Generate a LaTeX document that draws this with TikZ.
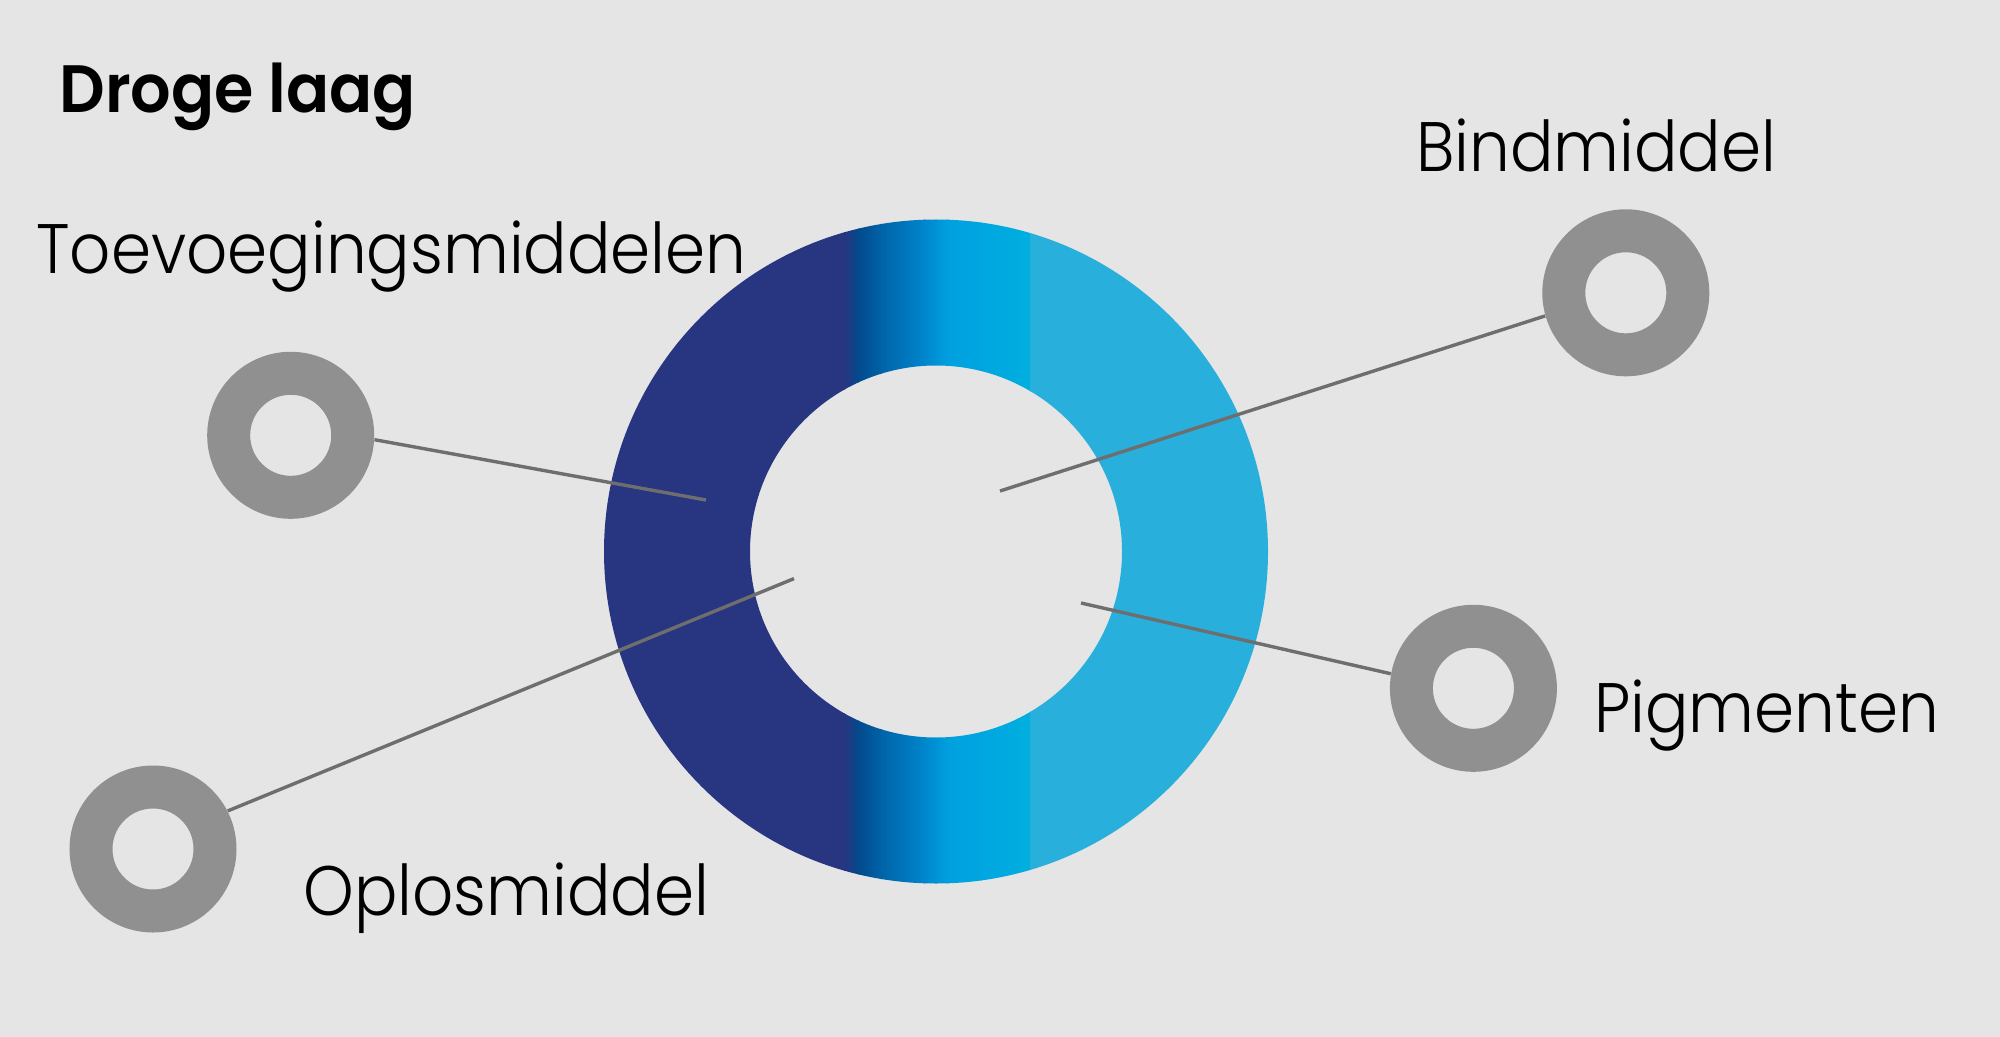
\documentclass[tikz,border=0pt]{standalone}
\usepackage{fontspec}
\setmainfont{Poppins}[UprightFont=* Light, BoldFont=* SemiBold,
  UprightFeatures={FakeStretch=0.92}, BoldFeatures={FakeStretch=0.95}]
\definecolor{bg}{HTML}{E5E5E5}
\definecolor{navy}{HTML}{283580}
\definecolor{gA}{HTML}{024A8D}
\definecolor{gB}{HTML}{0063A8}
\definecolor{gC}{HTML}{0086CC}
\definecolor{gD}{HTML}{00A0DF}
\definecolor{gE}{HTML}{00A6E0}
\definecolor{gF}{HTML}{00AFDF}
\definecolor{sky}{HTML}{28AFDB}
\definecolor{ringgray}{HTML}{909090}
\definecolor{linegray}{HTML}{6E6E6E}
\tikzset{
  label/.style={anchor=base west, inner sep=0pt, font=\fontsize{35pt}{40pt}\selectfont, text=black},
  title/.style={anchor=base west, inner sep=0pt, font=\fontsize{33.5pt}{40pt}\selectfont\bfseries, text=black},
  spot/.style={circle, inner sep=0pt, minimum size=83.5pt},
  smallring/.style={draw=ringgray, line width=21.5pt, fill=bg},
  connector/.style={draw=linegray, line width=1.7pt},
}
\begin{document}
\begin{tikzpicture}[x=0.5pt,y=-0.5pt]
\useasboundingbox (0,0) rectangle (2000,1037);
\fill[bg] (0,0) rectangle (2000,1037);
% big gradient ring
\begin{scope}[even odd rule]
\clip (936,551.5) circle[radius=332] (936,551.5) circle[radius=186];
\fill[navy] (590,200) rectangle (845,900);
\shade[left color=navy, right color=gA] (844,200) rectangle (859,900);
\shade[left color=gA, right color=gB] (858,200) rectangle (882,900);
\shade[left color=gB, right color=gC] (881,200) rectangle (925,900);
\shade[left color=gC, right color=gD] (924,200) rectangle (949,900);
\shade[left color=gD, right color=gE] (948,200) rectangle (982,900);
\shade[left color=gE, right color=gF] (981,200) rectangle (1031,900);
\fill[sky] (1030,200) rectangle (1280,900);
\end{scope}
% spots
\node[spot] (t) at (290.7,435.3) {};
\node[spot] (b) at (1625.8,292.8) {};
\node[spot] (p) at (1473.4,688.3) {};
\node[spot] (o) at (153,849) {};
\coordinate (tin) at (706,500);
\coordinate (bin) at (1000,491);
\coordinate (pin) at (1081,603);
\coordinate (oin) at (794,578.6);
% connectors
\draw[connector] (t.-3.9) -- (tin);
\draw[connector] (b.196.2) -- (bin);
\draw[connector] (p.170.2) -- (pin);
\draw[connector] (o.27.5) -- (oin);
% small rings
\foreach \n in {t,b,p,o} {
  \draw[smallring] (\n.center) circle[radius=62];
}
% texts
\node[title] (ttl) at (59,112.3) {Droge laag};
\node[label] (lt) at (36,274) {Toevoegingsmiddelen};
\node[label] (lb) at (1416,171.7) {Bindmiddel};
\node[label] (lp) at (1594,732.3) {Pigmenten};
\node[label] (lo) at (303,915.7) {Oplosmiddel};
\end{tikzpicture}
\end{document}
